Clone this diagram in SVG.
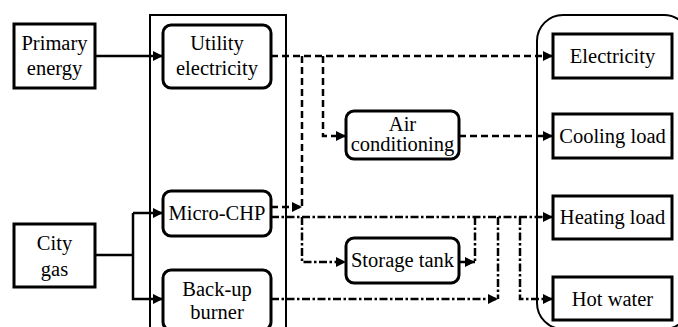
<svg xmlns="http://www.w3.org/2000/svg" width="678" height="327" viewBox="0 0 678 327">
<style>
.t{font-family:Liberation Serif,Times New Roman,Times,serif;font-size:20.5px;fill:#000;text-anchor:middle}
.box{fill:#fff;stroke:#000;stroke-width:3}
.cont{fill:none;stroke:#000;stroke-width:2}
.s{fill:none;stroke:#000;stroke-width:2.5}
.d{fill:none;stroke:#000;stroke-width:2.5;stroke-dasharray:7 4}
.dd{fill:none;stroke:#000;stroke-width:2.5;stroke-dasharray:8 2.5 2.5 2.5}
</style>
<defs>
<marker id="ah" viewBox="0 0 10 10" refX="10" refY="5" markerWidth="10" markerHeight="10" markerUnits="userSpaceOnUse" orient="auto">
<path d="M0,0 L10,5 L0,10 z" fill="#000"/>
</marker>
</defs>
<g id="containers">
<rect class="cont" x="150" y="15" width="136" height="330"/>
<rect class="cont" x="537" y="15" width="153" height="314" rx="26"/>
</g>
<g id="connectors">
<line class="s" x1="95" y1="56" x2="163" y2="56" marker-end="url(#ah)"/>
<polyline class="s" points="95,255 133,255"/>
<polyline class="s" points="133,213 133,299 163,299" marker-end="url(#ah)"/>
<line class="s" x1="133" y1="213" x2="163" y2="213" marker-end="url(#ah)"/>
<line class="d" x1="271" y1="56" x2="553" y2="56" marker-end="url(#ah)"/>
<line class="d" x1="302" y1="56" x2="302" y2="207"/>
<polyline class="d" points="323,56 323,136 346,136" marker-end="url(#ah)"/>
<line class="d" x1="459" y1="136" x2="553" y2="136" marker-end="url(#ah)"/>
<line class="d" x1="271" y1="207" x2="302" y2="207" marker-end="url(#ah)"/>
<line class="dd" x1="271" y1="217" x2="553" y2="217" marker-end="url(#ah)"/>
<polyline class="dd" points="302,217 302,262 346,262" marker-end="url(#ah)"/>
<line class="s" x1="459" y1="262" x2="475" y2="262" marker-end="url(#ah)"/>
<line class="dd" x1="475" y1="217" x2="475" y2="262"/>
<line class="dd" x1="271" y1="299" x2="498" y2="299" marker-end="url(#ah)"/>
<line class="dd" x1="498" y1="217" x2="498" y2="299"/>
<polyline class="dd" points="520,217 520,299 553,299" marker-end="url(#ah)"/>
</g>
<g id="primary-energy">
<rect class="box" x="14" y="24" width="81" height="64"/>
<text class="t" font-family="Liberation Serif" x="54.5" y="50">Primary</text>
<text class="t" font-family="Liberation Serif" x="54.5" y="75">energy</text>
</g>
<g id="city-gas">
<rect class="box" x="14" y="224" width="81" height="63"/>
<text class="t" x="54.5" y="250">City</text>
<text class="t" x="54.5" y="276">gas</text>
</g>
<g id="utility-electricity">
<rect class="box" x="163" y="25" width="108" height="63" rx="8"/>
<text class="t" x="217" y="50">Utility</text>
<text class="t" x="217" y="75">electricity</text>
</g>
<g id="micro-chp">
<rect class="box" x="163" y="191" width="108" height="45" rx="8"/>
<text class="t" x="217" y="220">Micro-CHP</text>
</g>
<g id="backup-burner">
<rect class="box" x="163" y="270" width="108" height="60" rx="8"/>
<text class="t" x="217" y="296">Back-up</text>
<text class="t" x="217" y="319">burner</text>
</g>
<g id="air-conditioning">
<rect class="box" x="346" y="111" width="113" height="48" rx="8"/>
<text class="t" x="402.5" y="131">Air</text>
<text class="t" x="402.5" y="151">conditioning</text>
</g>
<g id="storage-tank">
<rect class="box" x="346" y="238" width="113" height="45" rx="8"/>
<text class="t" x="402.5" y="267">Storage tank</text>
</g>
<g id="electricity">
<rect class="box" x="553" y="34" width="119" height="44"/>
<text class="t" x="612.5" y="63">Electricity</text>
</g>
<g id="cooling-load">
<rect class="box" x="553" y="114" width="119" height="44"/>
<text class="t" x="612.5" y="143">Cooling load</text>
</g>
<g id="heating-load">
<rect class="box" x="553" y="196" width="119" height="43"/>
<text class="t" x="612.5" y="224">Heating load</text>
</g>
<g id="hot-water">
<rect class="box" x="553" y="277" width="119" height="43"/>
<text class="t" x="612.5" y="306">Hot water</text>
</g>
</svg>
